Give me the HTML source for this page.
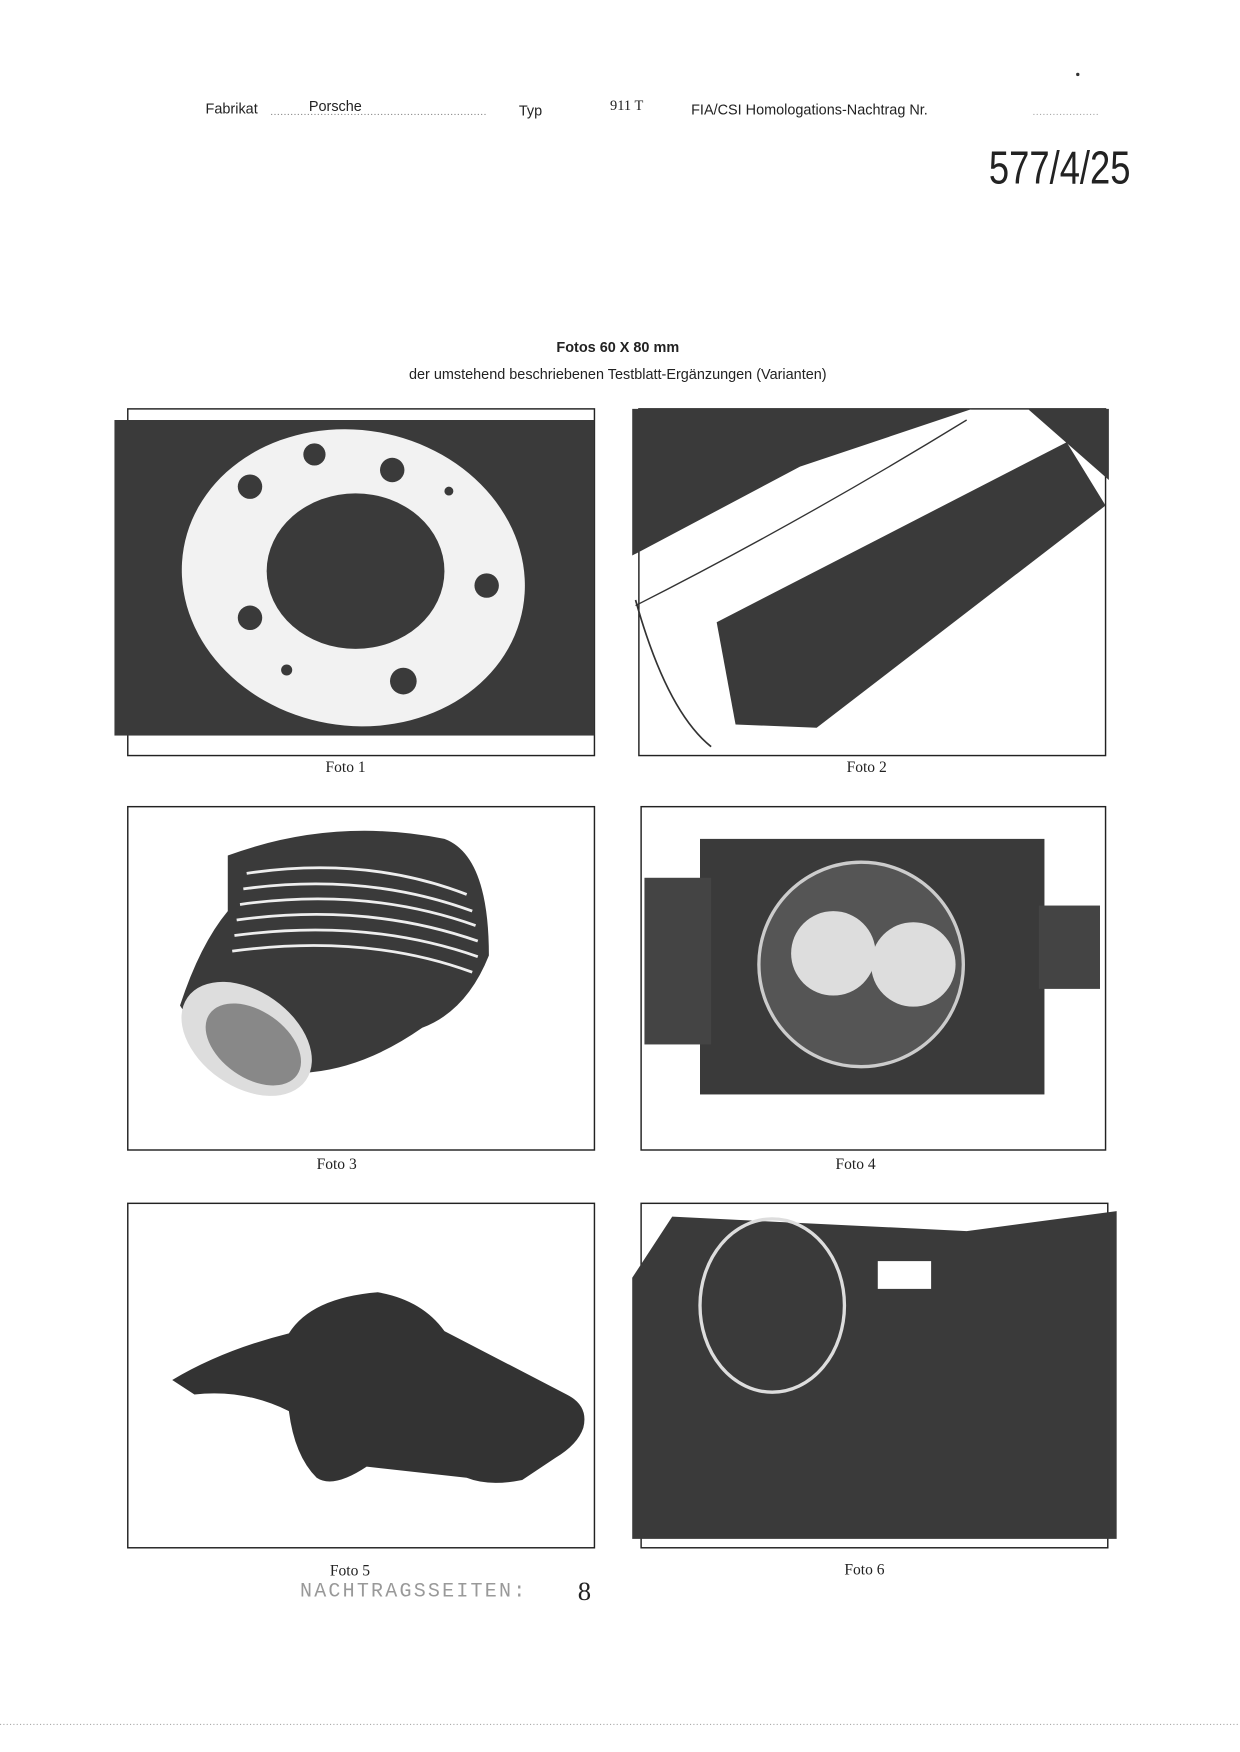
<!DOCTYPE html>
<html><head><meta charset="utf-8"><style>
html,body{margin:0;padding:0;background:#fff}
body{width:1240px;height:1752px;position:relative;overflow:hidden}
svg text{font-family:"Liberation Sans",sans-serif;fill:#222}
.s{font-family:"Liberation Serif",serif}
</style></head><body>
<svg width="1240" height="1752" viewBox="0 0 1116 1576.8" style="position:absolute;left:0;top:0">
<!-- header -->
<text x="185" y="102" font-size="13">Fabrikat</text>
<line x1="244" y1="103" x2="437" y2="103" stroke="#888" stroke-dasharray="1,2"/>
<text x="278" y="100" font-size="13">Porsche</text>
<text x="467" y="104" font-size="13">Typ</text>
<text x="549" y="99" font-size="13" class="s">911 T</text>
<text x="622" y="103" font-size="13">FIA/CSI Homologations-Nachtrag Nr.</text>
<line x1="930" y1="103" x2="990" y2="103" stroke="#aaa" stroke-dasharray="1,2"/>
<text x="890" y="165" font-size="42" transform="translate(890 0) scale(0.78 1) translate(-890 0)" style="font-family:'Liberation Sans Narrow','Liberation Sans',sans-serif">577/4/25</text>
<circle cx="970" cy="67" r="1.5" fill="#333"/>
<!-- title -->
<text x="556" y="317" font-size="13" font-weight="bold" text-anchor="middle">Fotos 60 X 80 mm</text>
<text x="556" y="341" font-size="13" text-anchor="middle">der umstehend beschriebenen Testblatt-Ergänzungen (Varianten)</text>

<g fill="none" stroke="#222" stroke-width="1.3">
<rect x="115" y="368" width="420" height="312"/>
<rect x="575" y="368" width="420" height="312"/>
<rect x="115" y="726" width="420" height="309"/>
<rect x="577" y="726" width="418" height="309"/>
<rect x="115" y="1083" width="420" height="310"/>
<rect x="577" y="1083" width="420" height="310"/>
</g>
<!-- foto1 -->
<rect x="103" y="378" width="432" height="284" fill="#3a3a3a"/>
<ellipse cx="318" cy="520" rx="155" ry="133" fill="#f2f2f2" transform="rotate(10 318 520)"/>
<ellipse cx="320" cy="514" rx="80" ry="70" fill="#3a3a3a"/>
<g fill="#3a3a3a"><circle cx="283" cy="409" r="10"/><circle cx="353" cy="423" r="11"/><circle cx="225" cy="438" r="11"/><circle cx="404" cy="442" r="4"/><circle cx="438" cy="527" r="11"/><circle cx="225" cy="556" r="11"/><circle cx="258" cy="603" r="5"/><circle cx="363" cy="613" r="12"/></g>
<!-- foto2 -->
<polygon points="569,368 875,368 720,420 569,500" fill="#3a3a3a"/>
<polygon points="925,368 998,368 998,432" fill="#3a3a3a"/>
<polygon points="645,560 960,398 995,455 735,655 662,652" fill="#3a3a3a"/>
<path d="M572,545 Q720,470 870,378" stroke="#333" stroke-width="1.2" fill="none"/>
<path d="M572,540 Q600,640 640,672" stroke="#333" stroke-width="1.5" fill="none"/>
<!-- foto3 cylinder -->
<path d="M205,770 Q300,735 400,755 Q440,770 440,860 Q420,910 380,925 Q330,960 280,965 L240,970 Q190,950 162,905 Q180,850 205,820 Z" fill="#3a3a3a"/>
<g stroke="#eee" stroke-width="2.5" fill="none"><path d="M222,786 Q330,770 420,805"/><path d="M219,800 Q330,785 425,820"/><path d="M216,814 Q330,798 428,833"/><path d="M213,828 Q330,812 430,847"/><path d="M211,842 Q330,826 430,861"/><path d="M209,856 Q330,840 425,875"/></g>
<ellipse cx="222" cy="935" rx="65" ry="43" fill="#ddd" transform="rotate(35 222 935)"/>
<ellipse cx="228" cy="940" rx="48" ry="30" fill="#888" transform="rotate(35 228 940)"/>
<!-- foto4 -->
<rect x="630" y="755" width="310" height="230" fill="#3a3a3a"/>
<rect x="580" y="790" width="60" height="150" fill="#444"/>
<rect x="935" y="815" width="55" height="75" fill="#444"/>
<circle cx="775" cy="868" r="92" fill="#555"/>
<circle cx="750" cy="858" r="38" fill="#ddd"/>
<circle cx="822" cy="868" r="38" fill="#ddd"/>
<circle cx="775" cy="868" r="92" fill="none" stroke="#ccc" stroke-width="3"/>
<!-- foto5 -->
<path d="M155,1242 Q200,1215 260,1200 Q280,1168 340,1163 Q380,1170 400,1198 L510,1255 Q530,1265 525,1285 Q520,1300 500,1312 L470,1332 Q440,1338 420,1330 L330,1320 Q300,1340 285,1330 Q265,1310 260,1270 Q220,1250 175,1255 Z" fill="#333"/>
<!-- foto6 -->
<polygon points="569,1150 605,1095 870,1108 1005,1090 1005,1385 569,1385" fill="#3a3a3a"/>
<ellipse cx="695" cy="1175" rx="65" ry="78" fill="none" stroke="#ddd" stroke-width="3"/>
<rect x="790" y="1135" width="48" height="25" fill="#fff"/>
<!-- labels -->
<text x="311" y="695" font-size="14" text-anchor="middle" class="s">Foto 1</text>
<text x="780" y="695" font-size="14" text-anchor="middle" class="s">Foto 2</text>
<text x="303" y="1052" font-size="14" text-anchor="middle" class="s">Foto 3</text>
<text x="770" y="1052" font-size="14" text-anchor="middle" class="s">Foto 4</text>
<text x="315" y="1418" font-size="14" text-anchor="middle" class="s">Foto 5</text>
<text x="778" y="1417" font-size="14" text-anchor="middle" class="s">Foto 6</text>
<text x="270" y="1437" font-size="18" fill="#999" style="font-family:'Liberation Mono',monospace;fill:#999" letter-spacing="2">NACHTRAGSSEITEN:</text>
<text x="520" y="1440" font-size="24" class="s">8</text>
<line x1="0" y1="1552" x2="1116" y2="1552" stroke="#aaa" stroke-dasharray="1,2"/>
</svg>
</body></html>
